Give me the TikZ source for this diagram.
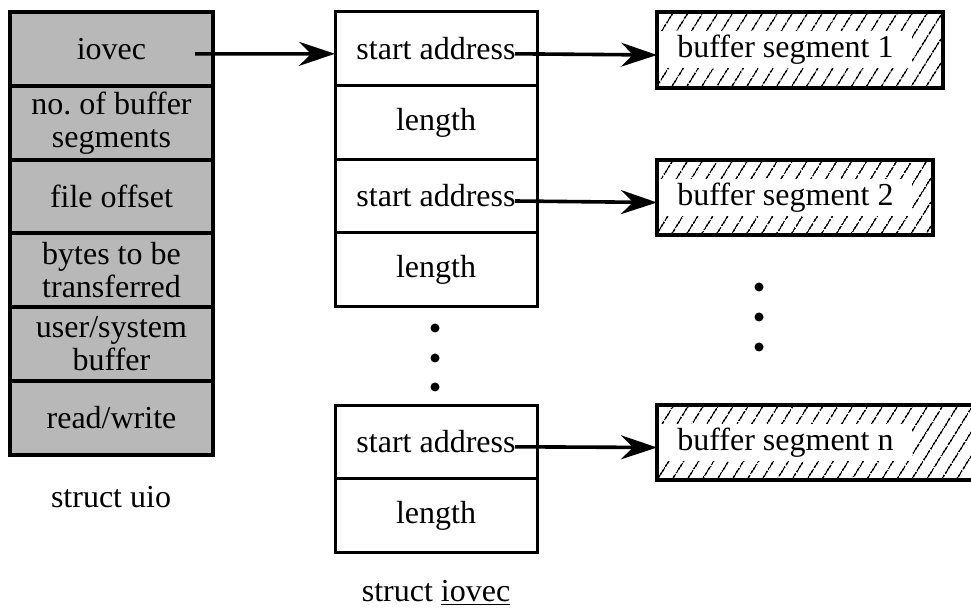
\documentclass[tikz,border=0pt]{standalone}
\usepackage{fontspec}
\setmainfont{Liberation Serif}
\usetikzlibrary{positioning,arrows.meta,patterns.meta}

\begin{document}
\begin{tikzpicture}[x=0.5pt,y=-0.5pt,node distance=0pt,
		font=\fontsize{16}{16.5}\selectfont,
		uiorow/.style={draw,line width=2pt,fill=black!28,minimum width=101.5pt,minimum height=36.9pt,inner sep=0pt,outer sep=0pt,align=center},
		vecrow/.style={draw,line width=1.5pt,minimum width=101pt,minimum height=36.8pt,inner sep=0pt,outer sep=0pt},
		bufbox/.style={line width=2pt,inner sep=0pt,outer sep=0pt,anchor=north west,pattern={Lines[angle=58,distance=6.5pt,line width=0.8pt]}},
		buftext/.style={fill=white,inner xsep=9pt,inner ysep=0pt,minimum height=18.5pt,anchor=west},
		vdot/.style={circle,fill,inner sep=0pt,minimum size=4.5pt},
		ptr/.style={-{Stealth[length=18pt,width=12pt,inset=6pt]},line width=1.8pt}]
		\useasboundingbox (0,0) rectangle (971,610);
		% struct uio
		\node[uiorow, anchor=north west] (u1) at (10,12) {iovec};
		\node[uiorow] (u2) [below=of u1] {no.\ of buffer\\segments};
		\node[uiorow] (u3) [below=of u2] {file offset};
		\node[uiorow] (u4) [below=of u3] {bytes to be\\transferred};
		\node[uiorow] (u5) [below=of u4] {user/system\\buffer};
		\node[uiorow] (u6) [below=of u5] {read/write};
		\node (uiocap) at (111,497) {struct uio};
		% struct iovec
		\node[vecrow, anchor=north west] (v1) at (335,12) {start address};
		\node[vecrow] (v2) [below=of v1] {length};
		\node[vecrow] (v3) [below=of v2] {start address};
		\node[vecrow] (v4) [below=of v3] {length};
		\foreach \y [count=\i] in {328,358,387}
			\node[vdot] (vd\i) at (435,\y) {};
		\node[vecrow, anchor=north west] (v5) at (335,405) {start address};
		\node[vecrow] (v6) [below=of v5] {length};
		\node (veccap) at (436,593) {struct \underline{iovec}};
		% buffers
		\node[bufbox, draw, minimum width=143pt, minimum height=38pt] (b1) at (657,12) {};
		\node[buftext] (t1) at ([xshift=1pt]b1.west) {buffer segment 1};
		\node[bufbox, draw, minimum width=138pt, minimum height=37.5pt] (b2) at (657,160) {};
		\node[buftext] (t2) at ([xshift=1pt]b2.west) {buffer segment 2};
		\foreach \y [count=\i] in {287,317,347}
			\node[vdot] (bd\i) at (759,\y) {};
		\node[bufbox, minimum width=166pt, minimum height=37.5pt] (bn) at (657,405) {};
		\draw[line width=2pt] (bn.north east) -- (bn.north west) -- (bn.south west) -- (bn.south east);
		\node[buftext] (tn) at ([xshift=1pt]bn.west) {buffer segment n};
		% pointers
		\draw[ptr] ([xshift=-9pt,yshift=-2.5pt]u1.east) -- ([yshift=-2.5pt]v1.west);
		\draw[ptr] ([xshift=-11pt,yshift=-2.5pt]v1.east) -- ([yshift=-2.5pt]b1.west);
		\draw[ptr] ([xshift=-11pt,yshift=-2.5pt]v3.east) -- ([yshift=-2.5pt]b2.west);
		\draw[ptr] ([xshift=-11pt,yshift=-2.5pt]v5.east) -- ([yshift=-2.5pt]bn.west);
	\end{tikzpicture}
\end{document}
